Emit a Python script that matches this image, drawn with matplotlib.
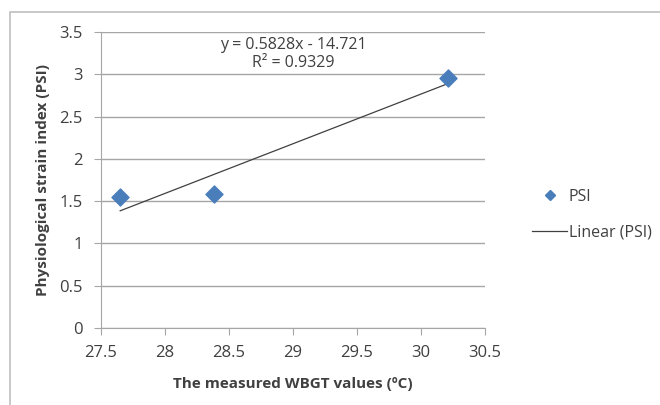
import numpy as np
import matplotlib

matplotlib.use('Agg')
import matplotlib.pyplot as plt
from matplotlib.patches import Rectangle
from matplotlib.lines import Line2D

# values
wbgt = [27.65, 28.38, 30.21]
psi = [1.55, 1.585, 2.955]
x_ticks = [27.5, 28, 28.5, 29, 29.5, 30, 30.5]
y_ticks = [0, 0.5, 1, 1.5, 2, 2.5, 3, 3.5]
eq_text = "y = 0.5828x - 14.721\nR² = 0.9329"

plt.rcParams['font.family'] = ['Open Sans', 'DejaVu Sans']

fig = plt.figure(figsize=(6.6, 4.05), dpi=100)
fig.patches.append(Rectangle((10 / 660, -0.1), 1.1, 0.1 + 1 - 12 / 405,
                             transform=fig.transFigure, fill=False,
                             edgecolor='#bfbfbf', linewidth=1.2))

ax = fig.add_axes([101 / 660, 77 / 405, 384 / 660, 296 / 405])

# linear trendline fitted from the points
slope, intercept = np.polyfit(wbgt, psi, 1)
xs = np.array([min(wbgt), max(wbgt)])
ax.plot(xs, slope * xs + intercept, color='#404040', linewidth=0.9, zorder=2)
ax.scatter(wbgt, psi, marker='D', s=75, color='#4a7ebb', zorder=3)

ax.set_xlim(27.5, 30.5)
ax.set_ylim(0, 3.5)
ax.set_xticks(x_ticks)
ax.set_xticklabels([f"{v:g}" for v in x_ticks])
ax.set_yticks(y_ticks)
ax.set_yticklabels([f"{v:g}" for v in y_ticks])
ax.grid(axis='y', color='#a6a6a6', linewidth=1)
ax.set_axisbelow(True)
for s in ['top', 'right']:
    ax.spines[s].set_visible(False)
for s in ['left', 'bottom']:
    ax.spines[s].set_color('#a6a6a6')
ax.tick_params(colors='#a6a6a6', labelcolor='#404040', labelsize=12, length=5)
ax.tick_params(axis='x', pad=7)
ax.tick_params(axis='y', pad=8)

ax.set_xlabel("The measured WBGT values (ºC)", fontsize=11, fontweight='bold',
              color='#404040', labelpad=12)
ax.set_ylabel("Physiological strain index (PSI)", fontsize=11, fontweight='bold',
              color='#404040', labelpad=7)

ax.text(29.0, 3.24, eq_text, ha='center', va='center', fontsize=11.5,
        color='#404040', linespacing=1.15)

handles = [Line2D([], [], marker='D', linestyle='none', color='#4a7ebb', markersize=5),
           Line2D([], [], color='#404040', linewidth=0.9)]
fig.legend(handles, ['PSI', 'Linear (PSI)'], loc='center left',
           bbox_to_anchor=(532 / 660, 1 - 215 / 405), frameon=False,
           fontsize=11.5, labelcolor='#404040', handlelength=2.2,
           labelspacing=1.25, handletextpad=0.1, borderpad=0,
           borderaxespad=0)

fig.savefig('out.png', dpi=100)
